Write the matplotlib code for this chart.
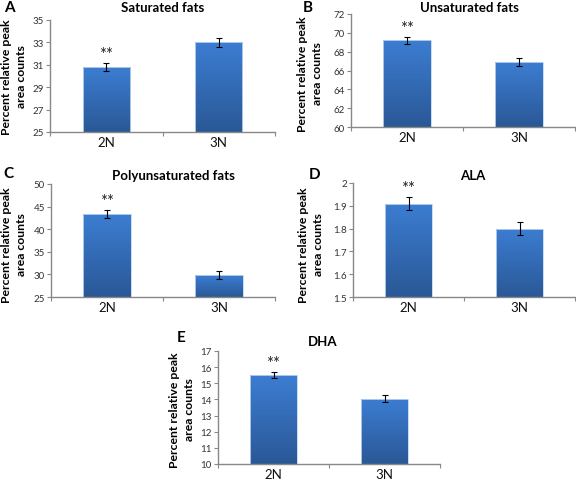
import matplotlib
matplotlib.use("Agg")
import matplotlib.pyplot as plt
import numpy as np
from matplotlib.colors import LinearSegmentedColormap

plt.rcParams['font.family'] = ['Lato', 'DejaVu Sans']

categories = ["2N", "3N"]

titles = ["Saturated fats", "Unsaturated fats", "Polyunsaturated fats", "ALA", "DHA"]
letters = ["A", "B", "C", "D", "E"]
values = [
    [30.8, 33.0],
    [69.2, 66.9],
    [43.3, 29.8],
    [1.91, 1.80],
    [15.5, 14.05],
]
errors = [
    [0.35, 0.4],
    [0.35, 0.4],
    [0.9, 0.9],
    [0.03, 0.03],
    [0.2, 0.22],
]
ylims = [(25, 35), (60, 72), (25, 50), (1.5, 2.0), (10, 17)]
yticks = [
    [25, 27, 29, 31, 33, 35],
    [60, 62, 64, 66, 68, 70, 72],
    [25, 30, 35, 40, 45, 50],
    [1.5, 1.6, 1.7, 1.8, 1.9, 2.0],
    [10, 11, 12, 13, 14, 15, 16, 17],
]
ytick_labels = [
    ["25", "27", "29", "31", "33", "35"],
    ["60", "62", "64", "66", "68", "70", "72"],
    ["25", "30", "35", "40", "45", "50"],
    ["1.5", "1.6", "1.7", "1.8", "1.9", "2"],
    ["10", "11", "12", "13", "14", "15", "16", "17"],
]
ylabel = "Percent relative peak\narea counts"

W, H = 576, 481
fig = plt.figure(figsize=(W / 100, H / 100), dpi=100)

# layout in pixels
boxes = [  # left, right, top, bottom
    (50, 275, 21, 133),
    (351, 575, 15, 128),
    (51, 275, 185, 298),
    (353, 575, 184, 298),
    (218, 440, 352, 465),
]
letter_pos = [(9, 8), (308, 8), (8, 174), (315, 175), (181, 338)]
title_pos = [(163, 8), (469, 8), (173, 176), (473, 176), (323, 342)]
ylabel_pos = [(14, 77), (310, 74), (14, 245), (311, 245), (182, 410)]


def fx(px):
    return px / W


def fy(py):
    return 1 - py / H


cmap = LinearSegmentedColormap.from_list("barg", ["#2A5896", "#3C7DD2"])
grad = np.linspace(0, 1, 256).reshape(-1, 1)

xpos = np.array([0.5, 1.5])
bw = 0.42

for i in range(5):
    l, r, t, b = boxes[i]
    ax = fig.add_axes([fx(l), fy(b), (r - l) / W, (b - t) / H])
    ylo, yhi = ylims[i]
    bars = ax.bar(xpos, values[i], width=bw, bottom=0, color="none",
                  edgecolor="#BFD6F0", linewidth=0.6, zorder=2)
    for bar in bars:
        x0 = bar.get_x()
        x1 = x0 + bar.get_width()
        h = bar.get_height()
        im = ax.imshow(grad, cmap=cmap, aspect="auto", origin="lower",
                       extent=[x0, x1, ylo, h], zorder=1, interpolation="bicubic")
        im.set_clip_path(bar)
    ax.errorbar(xpos, values[i], yerr=errors[i], fmt="none", ecolor="black",
                elinewidth=0.8, capsize=2, capthick=0.8, zorder=3)
    ax.set_xlim(0, 2)
    ax.set_ylim(ylo, yhi)
    ax.set_yticks(yticks[i])
    ax.set_yticklabels(ytick_labels[i], fontsize=7, color="#333333")
    ax.set_xticks(xpos)
    ax.set_xticklabels(categories, fontsize=9.5, color="#111111")
    ax.set_xticks([0, 1, 2], minor=True)
    ax.tick_params(axis="x", which="major", length=0, pad=3)
    ax.tick_params(axis="x", which="minor", length=3, color="#888888", width=0.8)
    ax.tick_params(axis="y", length=3, color="#888888", width=0.8, pad=1.5)
    for s in ["top", "right"]:
        ax.spines[s].set_visible(False)
    for s in ["left", "bottom"]:
        ax.spines[s].set_color("#888888")
        ax.spines[s].set_linewidth(1.0)
    # significance stars
    ax.annotate("**", xy=(xpos[0], values[i][0] + errors[i][0]),
                xytext=(0, 3), textcoords="offset points",
                ha="center", va="baseline", fontsize=12, color="#222222")
    fig.text(fx(title_pos[i][0]), fy(title_pos[i][1]), titles[i],
             fontsize=9.5, fontweight="bold", ha="center", va="center")
    fig.text(fx(letter_pos[i][0]), fy(letter_pos[i][1]), letters[i],
             fontsize=11, fontweight="bold", ha="center", va="center")
    fig.text(fx(ylabel_pos[i][0]), fy(ylabel_pos[i][1]), ylabel,
             fontsize=8.8, fontweight="bold", rotation=90, ha="center",
             va="center", multialignment="center", linespacing=1.45)

fig.savefig("out.png", dpi=100)
